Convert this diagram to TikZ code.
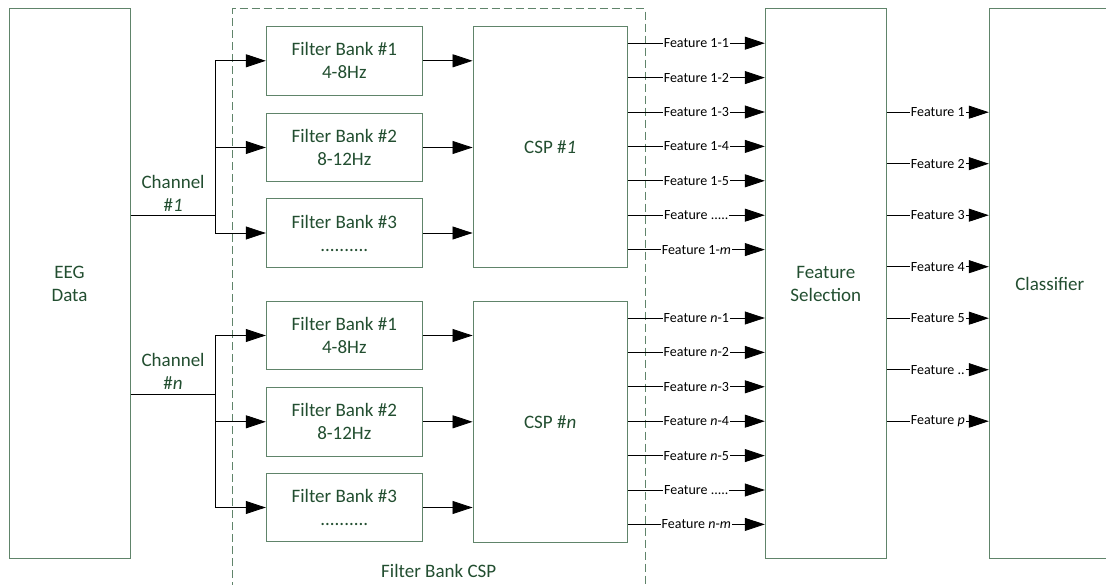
\documentclass[tikz,border=0pt]{standalone}
\usepackage{fontspec}
\setmainfont{Carlito}
\usetikzlibrary{arrows.meta}
\definecolor{txtgreen}{RGB}{34,78,48}
\definecolor{boxgreen}{RGB}{96,132,106}
\newcommand{\fivedots}{.....}
\newcommand{\twodots}{..}

\begin{document}
\begin{tikzpicture}[x=1pt,y=-1pt,line width=0.8pt,
    box/.style={draw=boxgreen,line width=1pt,text=txtgreen,align=center,inner sep=0pt,font=\fontsize{19}{23}\selectfont},
    fbank/.style={box,minimum width=156pt,minimum height=68.5pt},
    csp/.style={box,minimum width=154.3pt,minimum height=241pt},
    tall/.style={box,minimum width=121pt,minimum height=549pt},
    lab/.style={text=txtgreen,align=center,inner sep=1pt,font=\fontsize{19}{23}\selectfont},
    flab/.style={fill=white,inner sep=1pt,font=\fontsize{14}{16}\selectfont},
    arr/.style={-{Triangle[length=20pt,width=13pt]}}]
    \useasboundingbox (0,0) rectangle (1106,585);
    \draw[boxgreen,line width=1pt,dash pattern=on 8pt off 4pt] (232.7,590) |- (645,9) -- (645,590);
    \node[lab] (fbcsp) at (438.7,571) {Filter Bank CSP};

    \node[tall] (eeg) at (69.5,283.5) {EEG\\Data};
    \node[tall] (fsel) at (825.8,283.5) {Feature\\Selection};
    \node[tall] (cls) at (1049.8,283.5) {Classifier};

    \node[fbank] (fb11) at (344.3,60.8) {Filter Bank \#1\\4-8Hz};
    \node[fbank] (fb12) at (344.3,147.5) {Filter Bank \#2\\8-12Hz};
    \node[fbank] (fb13) at (344.3,233) {Filter Bank \#3\\..........};
    \node[fbank] (fbn1) at (344.3,335.5) {Filter Bank \#1\\4-8Hz};
    \node[fbank] (fbn2) at (344.3,421.8) {Filter Bank \#2\\8-12Hz};
    \node[fbank] (fbn3) at (344.3,507.5) {Filter Bank \#3\\..........};

    \node[csp] (csp1) at (550.2,147.2) {CSP \#\textit{1}};
    \node[csp] (cspn) at (550.2,422) {CSP \#\textit{n}};

    \coordinate (j1) at (215.7,215.7);
    \coordinate (jn) at (215.7,394.3);
    \draw[arr] (eeg.east |- j1) -- node[lab,above=3pt] (ch1) {Channel\\\#\textit{1}} (j1) |- (fb11);
    \draw[arr] (j1) |- (fb12);
    \draw[arr] (j1) |- (fb13);
    \draw[arr] (eeg.east |- jn) -- node[lab,above=3pt] (chn) {Channel\\\#\textit{n}} (jn) |- (fbn1);
    \draw[arr] (jn) |- (fbn2);
    \draw[arr] (jn) |- (fbn3);

    \foreach \f in {11,12,13}
      \draw[arr] (fb\f.east) -- (fb\f.east -| csp1.west);
    \foreach \f in {n1,n2,n3}
      \draw[arr] (fb\f.east) -- (fb\f.east -| cspn.west);

    \foreach \k/\txt in {0/1-1,1/1-2,2/1-3,3/1-4,4/1-5,5/\fivedots,6/1-\textit{m}}
      \draw[arr] ([yshift={-17-34.4*\k}]csp1.north east) coordinate (f1\k)
        -- node[flab] (fl1\k) {Feature \txt} (f1\k -| fsel.west);
    \foreach \k/\txt in {0/\textit{n}-1,1/\textit{n}-2,2/\textit{n}-3,3/\textit{n}-4,4/\textit{n}-5,5/\fivedots,6/\textit{n}-\textit{m}}
      \draw[arr] ([yshift={-17-34.4*\k}]cspn.north east) coordinate (fn\k)
        -- node[flab] (fln\k) {Feature \txt} (fn\k -| fsel.west);

    \foreach \k/\txt in {0/1,1/2,2/3,3/4,4/5,5/\twodots,6/\textit{p}}
      \draw[arr] ([yshift={-103.7-51.5*\k}]fsel.north east) coordinate (g\k)
        -- node[flab] (gl\k) {Feature \txt} (g\k -| cls.west);
\end{tikzpicture}
\end{document}
